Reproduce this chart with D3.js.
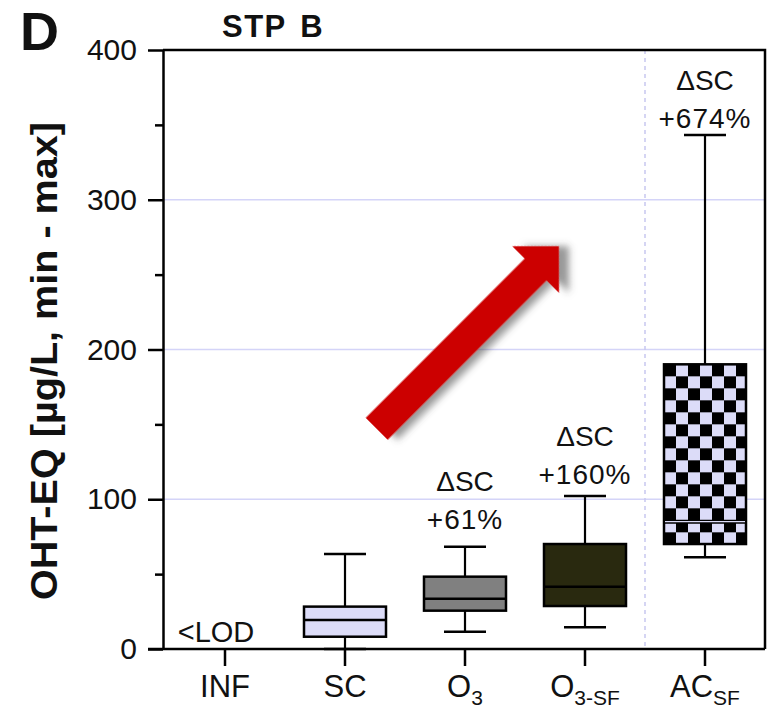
<!DOCTYPE html>
<html>
<head>
<meta charset="utf-8">
<script src="https://cdn.jsdelivr.net/npm/d3@7"></script>
<style>
  body { margin: 0; background: #fff; }
  svg { display: block; }
  text { font-family: Arial, "Liberation Sans", Helvetica, sans-serif; fill: #111; }
</style>
</head>
<body>
<svg id="chart" width="769" height="708"></svg>
<script>
// Treatment stages along the x axis (main label + subscript part)
const categories = ["INF", "SC", "O3", "O3-SF", "AC-SF"];
const labelMain  = ["INF", "SC", "O", "O", "AC"];
const labelSub   = ["", "", "3", "3-SF", "SF"];

// Box-plot statistics, OHT-EQ in µg/L (INF is below the limit of detection)
const whiskerMin = [null, 0, 11.6, 14.5, 61.2];
const quart1     = [null, 8.2, 25.6, 28.7, 70.1];
const medians    = [null, 19.4, 33.6, 41.6, 85.0];
const quart3     = [null, 28.3, 48.3, 70.1, 190.1];
const whiskerMax = [null, 63.4, 68.3, 102.2, 343.2];

// Change relative to SC, written above each treated stage
const deltaText  = [null, null, "+61%", "+160%", "+674%"];
const deltaAt    = [null, null, 80, 110, 348];   // value level of the percentage line

// Axis ticks
const yMajorTicks = [0, 100, 200, 300, 400];
const yMinorTicks = [50, 150, 250, 350];
const gridValues  = [100, 200, 300];

// Trend arrow, placed in (stage index, value) coordinates
const arrowTail = { pos: 1.264, value: 147 };
const arrowTip  = { pos: 2.783, value: 269 };

// ---- styling ----
const boxFill = { "SC": "#dcdcf8", "O3": "#808080", "O3-SF": "#29290f", "AC-SF": "url(#checker)" };
const lavender = "#dcdcf8";

const W = 769, H = 708;
const plot = { left: 163, right: 765, top: 50, bottom: 649 };

const svg = d3.select("#chart");

const x = d3.scaleBand().domain(categories).range([plot.left + 2, plot.right]).padding(0);
const y = d3.scaleLinear().domain([0, 400]).range([plot.bottom, plot.top]);
const cx = d => x(d) + x.bandwidth() / 2;
const xPos = d3.scaleLinear().domain([0, categories.length - 1])
  .range([cx(categories[0]), cx(categories[categories.length - 1])]);

const boxW = 82, capW = 42;

// checker pattern for the activated-carbon stage
const defs = svg.append("defs");
const acIdx = categories.indexOf("AC-SF");
const pat = defs.append("pattern")
  .attr("id", "checker")
  .attr("patternUnits", "userSpaceOnUse")
  .attr("width", 24).attr("height", 24)
  .attr("x", cx("AC-SF") - boxW / 2)
  .attr("y", y(quart3[acIdx]));
pat.append("rect").attr("width", 24).attr("height", 24).attr("fill", lavender);
pat.append("rect").attr("width", 12).attr("height", 12).attr("fill", "#000");
pat.append("rect").attr("x", 12).attr("y", 12).attr("width", 12).attr("height", 12).attr("fill", "#000");

// drop shadow for the arrow
const f = defs.append("filter").attr("id", "shadow")
  .attr("x", "-20%").attr("y", "-20%").attr("width", "150%").attr("height", "150%");
f.append("feDropShadow").attr("dx", 7).attr("dy", 7).attr("stdDeviation", 3.5)
  .attr("flood-color", "#444").attr("flood-opacity", 0.55);

// gridlines
svg.append("g").selectAll("line").data(gridValues).join("line")
  .attr("x1", plot.left).attr("x2", plot.right)
  .attr("y1", d => y(d)).attr("y2", d => y(d))
  .attr("stroke", "#d4d4f8").attr("stroke-width", 1.5);

// dotted separator before the AC stage
svg.append("line")
  .attr("x1", x("AC-SF")).attr("x2", x("AC-SF"))
  .attr("y1", plot.top).attr("y2", plot.bottom)
  .attr("stroke", "#c8c8f0").attr("stroke-width", 1.5)
  .attr("stroke-dasharray", "4,4");

// trend arrow
{
  const tx = xPos(arrowTail.pos), ty = y(arrowTail.value);
  const px = xPos(arrowTip.pos),  py = y(arrowTip.value);
  const len = Math.hypot(px - tx, py - ty);
  const ang = Math.atan2(py - ty, px - tx) * 180 / Math.PI;
  const sw = 15.5, hw = 33, hl = 33;
  const pts = [[0, -sw], [len - hl, -sw], [len - hl, -hw], [len, 0], [len - hl, hw], [len - hl, sw], [0, sw]];
  svg.append("path")
    .attr("d", d3.line()(pts) + "Z")
    .attr("transform", `translate(${tx},${ty}) rotate(${ang})`)
    .attr("fill", "#cc0000")
    .attr("filter", "url(#shadow)");
}

// box plots
const boxes = categories.map((c, i) => ({
  c, min: whiskerMin[i], q1: quart1[i], med: medians[i], q3: quart3[i], max: whiskerMax[i]
})).filter(d => d.med !== null);

const bg = svg.append("g").attr("stroke", "#000");
boxes.forEach(d => {
  const g = bg.append("g");
  const c = cx(d.c);
  g.append("line").attr("x1", c).attr("x2", c).attr("y1", y(d.max)).attr("y2", y(d.q3)).attr("stroke-width", 2.2);
  g.append("line").attr("x1", c).attr("x2", c).attr("y1", y(d.q1)).attr("y2", y(d.min)).attr("stroke-width", 2.2);
  g.append("line").attr("x1", c - capW / 2).attr("x2", c + capW / 2).attr("y1", y(d.max)).attr("y2", y(d.max)).attr("stroke-width", 2.5);
  g.append("line").attr("x1", c - capW / 2).attr("x2", c + capW / 2).attr("y1", y(d.min)).attr("y2", y(d.min)).attr("stroke-width", 2.5);
  g.append("rect")
    .attr("x", c - boxW / 2).attr("y", y(d.q3))
    .attr("width", boxW).attr("height", y(d.q1) - y(d.q3))
    .attr("fill", boxFill[d.c]).attr("stroke-width", 2.5);
  g.append("line").attr("x1", c - boxW / 2).attr("x2", c + boxW / 2)
    .attr("y1", y(d.med)).attr("y2", y(d.med)).attr("stroke-width", d.c === "AC-SF" ? 4 : 2.5);
  if (d.c === "AC-SF") {
    g.append("line").attr("x1", c - boxW / 2 + 1).attr("x2", c + boxW / 2 - 1)
      .attr("y1", y(d.med)).attr("y2", y(d.med)).attr("stroke", lavender).attr("stroke-width", 1.3);
  }
});

// plot frame (top and right)
svg.append("path")
  .attr("d", `M${plot.left},${plot.top}H${plot.right}V${plot.bottom}`)
  .attr("fill", "none").attr("stroke", "#000").attr("stroke-width", 2.5);

// y axis
const yAxis = svg.append("g").attr("transform", `translate(${plot.left},0)`)
  .call(d3.axisLeft(y).tickValues(yMajorTicks).tickSize(15).tickPadding(11).tickSizeOuter(0));
svg.append("g").attr("transform", `translate(${plot.left},0)`)
  .call(d3.axisLeft(y).tickValues(yMinorTicks).tickSize(8).tickFormat("").tickSizeOuter(0))
  .call(g => g.select(".domain").remove());
svg.selectAll(".tick line, .domain").attr("stroke", "#000").attr("stroke-width", 2.5);
yAxis.selectAll("text").attr("font-size", 30).attr("font-family", null).attr("fill", "#222");

// x axis
const xAxis = svg.append("g").attr("transform", `translate(0,${plot.bottom})`)
  .call(d3.axisBottom(x).tickSize(17).tickPadding(9).tickSizeOuter(0));
xAxis.select(".domain").attr("d", `M${plot.left - 15},0H${plot.right}`).attr("stroke", "#000").attr("stroke-width", 2.5);
xAxis.selectAll(".tick line").attr("stroke", "#000").attr("stroke-width", 2.5);
xAxis.selectAll("text")
  .attr("font-size", 31).attr("font-family", null).attr("fill", "#222")
  .each(function (d) {
    const i = categories.indexOf(d);
    const t = d3.select(this).text(null);
    t.append("tspan").text(labelMain[i]);
    if (labelSub[i]) t.append("tspan").attr("font-size", 21).attr("dy", 8).text(labelSub[i]);
  });

// <LOD marker for the influent
svg.append("text")
  .attr("x", cx("INF") - 9).attr("y", y(0) - 7)
  .attr("text-anchor", "middle").attr("font-size", 29).attr("fill", "#222")
  .text("<LOD");

// ΔSC annotations
categories.forEach((c, i) => {
  if (!deltaText[i]) return;
  const g = svg.append("g").attr("text-anchor", "middle").attr("font-size", 28).attr("fill", "#222");
  g.append("text").attr("x", cx(c)).attr("y", y(deltaAt[i]) - 38).text("\u0394SC");
  g.append("text").attr("x", cx(c)).attr("y", y(deltaAt[i])).attr("letter-spacing", 1).text(deltaText[i]);
});

// axis title
svg.append("text")
  .attr("transform", `translate(57,${(122 + 600) / 2}) rotate(-90)`)
  .attr("text-anchor", "middle").attr("font-size", 37).attr("font-weight", "bold").attr("fill", "#111")
  .attr("textLength", 478).attr("lengthAdjust", "spacingAndGlyphs")
  .text("OHT-EQ [µg/L, min - max]");

// panel title and letter
svg.append("text").attr("x", 222).attr("y", 37)
  .attr("font-size", 31).attr("font-weight", "bold").attr("fill", "#111")
  .attr("letter-spacing", 1.5).attr("word-spacing", 4)
  .text("STP B");
svg.append("text").attr("x", 20).attr("y", 50)
  .attr("font-size", 54).attr("font-weight", "bold").attr("fill", "#111")
  .text("D");
</script>
</body>
</html>
